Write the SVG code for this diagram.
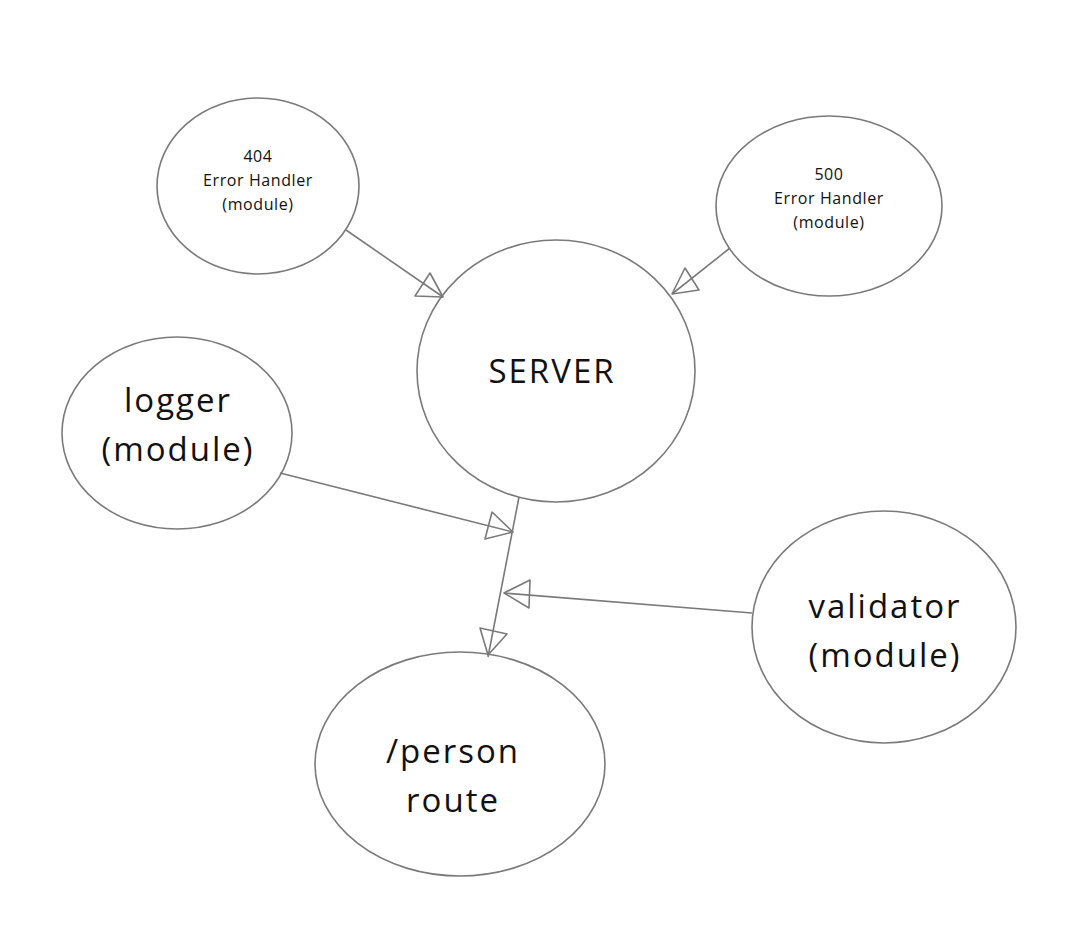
<svg xmlns="http://www.w3.org/2000/svg" width="1071" height="928" viewBox="0 0 1071 928">
<style>
.n{fill:none;stroke:#7a7a7a;stroke-width:1.6}
.c{fill:none;stroke:#7a7a7a;stroke-width:1.6;stroke-linejoin:round}
text{font-family:"Open Sans","Liberation Sans",sans-serif;fill:#111;text-anchor:middle}
.s{font-size:16px;letter-spacing:0.6px}
.b{font-size:33px;letter-spacing:2px}
</style>
<rect width="1071" height="928" fill="#fff"/>
<g id="n404">
<ellipse class="n" cx="258" cy="186" rx="101" ry="88"/>
<text class="s" x="258" y="162">404</text>
<text class="s" x="258" y="186">Error Handler</text>
<text class="s" x="258" y="210">(module)</text>
</g>
<g id="n500">
<ellipse class="n" cx="829" cy="206" rx="113" ry="90"/>
<text class="s" x="829" y="180">500</text>
<text class="s" x="829" y="204">Error Handler</text>
<text class="s" x="829" y="228">(module)</text>
</g>
<g id="server">
<ellipse class="n" cx="556" cy="371" rx="139" ry="131"/>
<text class="b" x="552" y="383">SERVER</text>
</g>
<g id="logger">
<ellipse class="n" cx="177" cy="433" rx="115" ry="96"/>
<text class="b" x="178" y="412">logger</text>
<text class="b" x="178" y="461">(module)</text>
</g>
<g id="validator">
<ellipse class="n" cx="884" cy="627" rx="132" ry="116"/>
<text class="b" x="885" y="618">validator</text>
<text class="b" x="885" y="667">(module)</text>
</g>
<g id="person">
<ellipse class="n" cx="460" cy="764" rx="145" ry="112"/>
<text class="b" x="453" y="763">/person</text>
<text class="b" x="453" y="812">route</text>
</g>
<g id="connectors">
<path class="c" d="M346 230 L443 297"/>
<path class="c" d="M443 297 L430 273 L415 296 Z"/>
<path class="c" d="M730 248 L672 294"/>
<path class="c" d="M672 294 L685 268 L699 290 Z"/>
<path class="c" d="M519 497 L488 657"/>
<path class="c" d="M488 655 L480 628 L507 634 Z"/>
<path class="c" d="M280 473 L513 532"/>
<path class="c" d="M513 532 L492 512 L485 539 Z"/>
<path class="c" d="M752 613 L504 593"/>
<path class="c" d="M504 593 L530 580 L529 608 Z"/>
</g>
</svg>
